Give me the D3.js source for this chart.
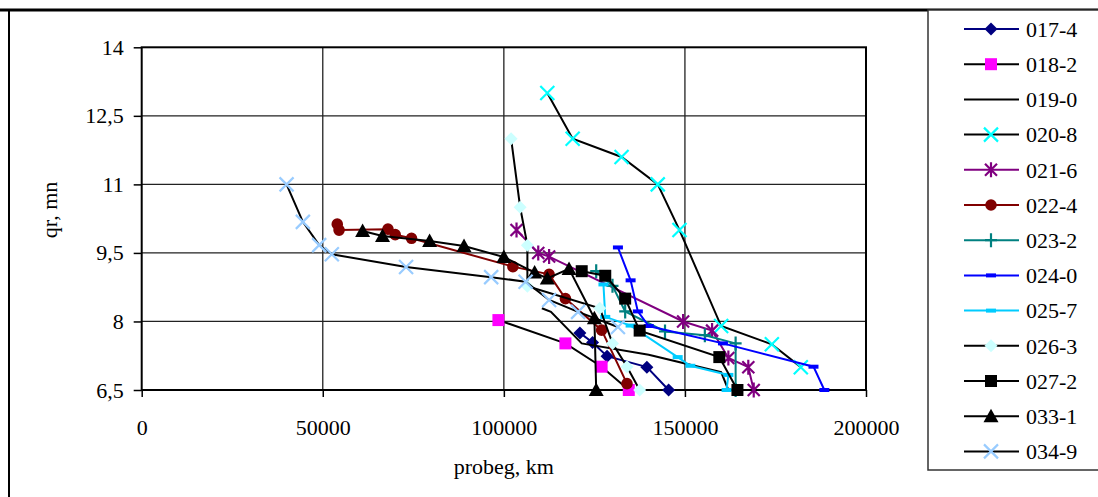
<!DOCTYPE html>
<html>
<head>
<meta charset="utf-8">
<script src="https://cdn.jsdelivr.net/npm/d3@7"></script>
<style>
  body { margin: 0; background: #fff; }
  svg { display: block; }
</style>
</head>
<body>
<div id="chart"></div>
<script>
const svgWidth = 1098
const svgHeight = 497
const FONT = "Liberation Serif, DejaVu Serif, serif"

// axis ticks
const xTicks = [0, 50000, 100000, 150000, 200000]
const yTicks = [6.5, 8, 9.5, 11, 12.5, 14]

// series data: [probeg km, qr mm]
const s017_4 = [[121000, 7.75], [124500, 7.54], [128500, 7.24], [139500, 7.0], [145500, 6.5]]
const s018_2 = [[98500, 8.03], [117000, 7.52], [127000, 7.01], [134500, 6.5]]
const s019_0 = [[110500, 8.29], [113000, 8.21], [121500, 7.52], [140000, 7.27], [160000, 6.89], [162000, 6.5]]
const s020_8 = [[112000, 13.0], [119000, 12.0], [132500, 11.6], [142500, 11.0], [148500, 10.0], [160000, 7.9], [174000, 7.5], [182000, 7.0]]
const s021_6 = [[103500, 10.0], [109500, 9.5], [112500, 9.42], [149500, 8.0], [157500, 7.8], [162000, 7.2], [167500, 7.0], [169000, 6.5]]
const s022_4 = [[54000, 10.13], [54500, 10.0], [68000, 10.02], [70000, 9.9], [74500, 9.82], [102500, 9.2], [112500, 9.03], [117000, 8.5], [127000, 7.81], [134000, 6.64]]
const s023_2 = [[125500, 9.1], [130000, 8.78], [133500, 8.22], [144500, 7.78], [155500, 7.7], [164000, 7.52], [164000, 6.5]]
const s024_0 = [[131500, 9.62], [135000, 8.9], [137000, 8.22], [140000, 7.9], [160500, 7.52], [185500, 7.01], [188500, 6.5]]
const s025_7 = [[127500, 8.81], [128000, 8.1], [135000, 7.91], [148000, 7.22], [151500, 7.03], [162000, 6.83], [161500, 6.5]]
const s026_3 = [[102000, 12.0], [104500, 10.5], [106500, 9.67], [106500, 8.77], [126500, 8.29], [130000, 7.52], [134000, 7.01], [137500, 6.5]]
const s027_2 = [[121500, 9.1], [128000, 9.0], [133500, 8.5], [137500, 7.8], [159500, 7.22], [164500, 6.5]]
const s033_1 = [[61000, 9.98], [66500, 9.87], [79500, 9.76], [89000, 9.65], [100000, 9.41], [108500, 9.07], [112000, 8.94], [118000, 9.15], [125000, 8.07], [125500, 6.5]]
const s034_9 = [[40000, 11.0], [44500, 10.18], [49000, 9.67], [52500, 9.47], [73000, 9.19], [96500, 8.97], [106000, 8.87], [112500, 8.47], [120500, 8.21], [131500, 7.88]]

const seriesNames = ["017-4", "018-2", "019-0", "020-8", "021-6", "022-4", "023-2",
  "024-0", "025-7", "026-3", "027-2", "033-1", "034-9"]
const seriesData = [s017_4, s018_2, s019_0, s020_8, s021_6, s022_4, s023_2,
  s024_0, s025_7, s026_3, s027_2, s033_1, s034_9]

// line colour, marker type, marker colour
const styles = [
  { line: "#000080", marker: "diamond", color: "#000080" },
  { line: "#000000", marker: "square", color: "#ff00ff" },
  { line: "#000000", marker: "none", color: "#000000" },
  { line: "#000000", marker: "x", color: "#00ffff" },
  { line: "#800080", marker: "star", color: "#800080" },
  { line: "#800000", marker: "circle", color: "#800000" },
  { line: "#008080", marker: "plus", color: "#008080" },
  { line: "#0000ff", marker: "dash", color: "#0000ff" },
  { line: "#00ccff", marker: "dash", color: "#00ccff" },
  { line: "#000000", marker: "diamond", color: "#ccffff" },
  { line: "#000000", marker: "square", color: "#000000" },
  { line: "#000000", marker: "triangle", color: "#000000" },
  { line: "#000000", marker: "x", color: "#99ccff" }
]

const plot = { left: 141.7, right: 866, top: 47.3, bottom: 390 }

let svg = d3.select("#chart")
  .append("svg")
  .attr("width", svgWidth)
  .attr("height", svgHeight)
  .attr("font-family", FONT)

let x = d3.scaleLinear().domain([0, 200000]).range([plot.left, plot.right])
let y = d3.scaleLinear().domain([6.5, 14]).range([plot.bottom, plot.top])

// outer chart frame (cut by the picture edges)
svg.append("line")
  .attr("x1", 0).attr("x2", svgWidth).attr("y1", 10).attr("y2", 10)
  .attr("stroke", "#000").attr("stroke-width", 3)
svg.append("line")
  .attr("x1", 9).attr("x2", 9).attr("y1", 10).attr("y2", svgHeight)
  .attr("stroke", "#000").attr("stroke-width", 2)

// gridlines
svg.append("g")
  .selectAll("line")
  .data(yTicks.slice(1, -1))
  .enter()
  .append("line")
  .attr("x1", plot.left).attr("x2", plot.right)
  .attr("y1", d => y(d)).attr("y2", d => y(d))
  .attr("stroke", "#222").attr("stroke-width", 1.3)

svg.append("g")
  .selectAll("line")
  .data(xTicks.slice(1, -1))
  .enter()
  .append("line")
  .attr("y1", plot.top).attr("y2", plot.bottom)
  .attr("x1", d => x(d)).attr("x2", d => x(d))
  .attr("stroke", "#222").attr("stroke-width", 1.3)

// axes
let yAxis = svg.append("g")
  .attr("transform", `translate(${plot.left}, 0)`)
  .call(d3.axisLeft(y).tickValues(yTicks).tickSize(8).tickPadding(10)
    .tickFormat(d => String(d).replace(".", ",")))
let xAxis = svg.append("g")
  .attr("transform", `translate(0, ${plot.bottom})`)
  .call(d3.axisBottom(x).tickValues(xTicks).tickSize(7).tickPadding(22)
    .tickFormat(d3.format("d")))

svg.selectAll(".domain").remove()
yAxis.attr("font-family", FONT).attr("font-size", 22)
xAxis.attr("font-family", FONT).attr("font-size", 22)
svg.selectAll(".tick line").attr("stroke", "#000").attr("stroke-width", 1.5)
svg.selectAll(".tick text").attr("fill", "#000")

// plot frame
svg.append("rect")
  .attr("x", plot.left).attr("y", plot.top)
  .attr("width", plot.right - plot.left).attr("height", plot.bottom - plot.top)
  .attr("fill", "none").attr("stroke", "#000").attr("stroke-width", 2)

// axis titles
svg.append("text")
  .attr("x", (plot.left + plot.right) / 2)
  .attr("y", 474)
  .attr("text-anchor", "middle")
  .attr("font-size", 22)
  .text("probeg, km")

svg.append("text")
  .attr("transform", "translate(57, 210) rotate(-90)")
  .attr("text-anchor", "middle")
  .attr("font-size", 22)
  .text("qr, mn")

function markerPath(type) {
  switch (type) {
    case "diamond": return "M0,-6.5L6.5,0L0,6.5L-6.5,0Z"
    case "square": return "M-6,-6H6V6H-6Z"
    case "triangle": return "M0,-7.5L7.5,6L-7.5,6Z"
    case "circle": return "M-5.8,0A5.8,5.8 0 1,0 5.8,0A5.8,5.8 0 1,0 -5.8,0Z"
    case "x": return "M-7,-7L7,7M-7,7L7,-7"
    case "star": return "M-6,-6L6,6M-6,6L6,-6M0,-7.5V7.5"
    case "plus": return "M-6,0H6M0,-7V7"
    case "dash": return "M-5,-2H5V2H-5Z"
    default: return ""
  }
}

function drawMarker(g, type, color) {
  let stroked = type === "x" || type === "star" || type === "plus"
  return g.append("path")
    .attr("d", markerPath(type))
    .attr("fill", stroked ? "none" : color)
    .attr("stroke", stroked ? color : "none")
    .attr("stroke-width", stroked ? 2.2 : 0)
}

let line = d3.line().x(d => x(d[0])).y(d => y(d[1]))

// series
seriesData.forEach((data, i) => {
  let st = styles[i]
  let g = svg.append("g")
  g.append("path")
    .datum(data)
    .attr("d", line)
    .attr("fill", "none")
    .attr("stroke", st.line)
    .attr("stroke-width", 2)
  if (st.marker !== "none") {
    g.selectAll("g.pt")
      .data(data)
      .enter()
      .append("g")
      .attr("class", "pt")
      .attr("transform", d => `translate(${x(d[0])}, ${y(d[1])})`)
      .each(function() { drawMarker(d3.select(this), st.marker, st.color) })
  }
})

// legend
let legend = svg.append("g")
legend.append("rect")
  .attr("x", 928).attr("y", 10)
  .attr("width", 200).attr("height", 460)
  .attr("fill", "#fff").attr("stroke", "#333").attr("stroke-width", 1.5)

let items = legend.selectAll("g.item")
  .data(seriesNames)
  .enter()
  .append("g")
  .attr("class", "item")
  .attr("transform", (d, i) => `translate(0, ${29 + i * 35.2})`)

items.append("line")
  .attr("x1", 964).attr("x2", 1019)
  .attr("stroke", (d, i) => styles[i].line)
  .attr("stroke-width", 2)

items.each(function(d, i) {
  if (styles[i].marker === "none") return
  let m = d3.select(this).append("g").attr("transform", "translate(991, 0)")
  drawMarker(m, styles[i].marker, styles[i].color)
})

items.append("text")
  .attr("x", 1026)
  .attr("y", 0)
  .attr("dy", "0.35em")
  .attr("font-size", 22)
  .text(d => d)
</script>
</body>
</html>
